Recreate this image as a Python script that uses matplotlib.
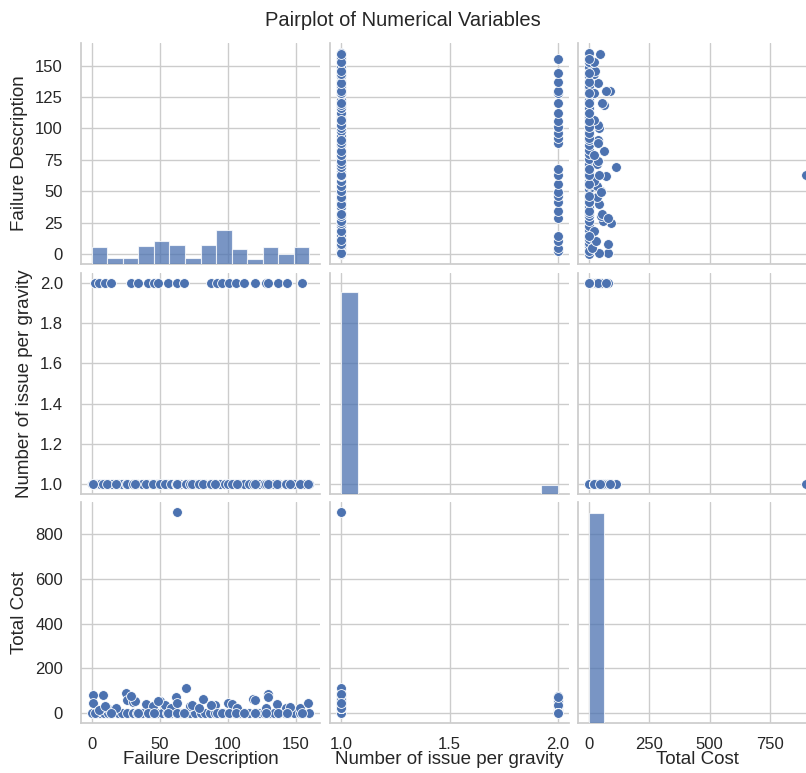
import numpy as np
import matplotlib.pyplot as plt
import seaborn as sns

# variables shown in the grid
var_names = ['Failure Description', 'Number of issue per gravity', 'Total Cost']

# distinct points, gravity 1 with cost 0 (label-encoded failure codes)
g1_zero_fail = [0, 3, 6, 9, 12, 15, 19, 22, 26, 30, 33, 37, 41, 44, 48, 52, 55, 58,
                62, 65, 69, 72, 76, 80, 83, 87, 91, 94, 98, 101, 105, 109, 112, 116,
                120, 123, 127, 131, 134, 138, 142, 145, 149, 153, 156, 160]

# gravity 1 with a cost
g1_cost_fail = [1, 1, 8, 11, 18, 25, 26, 30, 32, 40, 45, 50, 54, 58, 62, 63, 63, 69,
                72, 74, 79, 82, 88, 91, 100, 103, 107, 119, 120, 128, 130, 136, 143,
                146, 153, 159]
g1_cost = [80, 43, 80, 20, 20, 90, 58, 50, 54, 40, 32, 52, 35, 20, 70, 43, 900, 114,
           32, 36, 20, 64, 36, 36, 43, 38, 20, 64, 56, 20, 87, 38, 20, 26, 20, 45]

# gravity 2
g2_fail = [2, 5, 10, 14, 29, 34, 41, 46, 49, 56, 63, 68, 88, 92, 96, 101, 106, 112,
           120, 128, 130, 137, 144, 155]
g2_cost = [0, 12, 30, 0, 78, 0, 0, 0, 52, 0, 0, 0, 36, 0, 0, 0, 0, 0,
           0, 0, 72, 0, 0, 0]

# histogram counts on the diagonal
fd_counts = [44, 17, 17, 47, 60, 50, 17, 50, 89, 41, 13, 44, 27, 44]
grav_counts = [536, 0, 0, 0, 0, 0, 0, 0, 0, 0, 0, 0, 24]
cost_counts = [559, 0, 0, 0, 0, 0, 0, 0, 0, 0, 0, 0, 0, 1]

fail_all = np.array(g1_zero_fail + g1_cost_fail + g2_fail, dtype=float)
grav_all = np.array([1] * len(g1_zero_fail) + [1] * len(g1_cost_fail) + [2] * len(g2_fail), dtype=float)
cost_all = np.array([0] * len(g1_zero_fail) + g1_cost + g2_cost, dtype=float)
columns = [fail_all, grav_all, cost_all]

edges = [np.linspace(0, 160, len(fd_counts) + 1),
         np.linspace(1, 2, len(grav_counts) + 1),
         np.linspace(0, 900, len(cost_counts) + 1)]
counts = [fd_counts, grav_counts, cost_counts]

lims = [(-8, 168), (0.95, 2.05), (-45, 945)]
ticks = [[0, 50, 100, 150], [1.0, 1.5, 2.0], [0, 250, 500, 750]]
yticks = [[0, 25, 50, 75, 100, 125, 150], [1.0, 1.2, 1.4, 1.6, 1.8, 2.0],
          [0, 200, 400, 600, 800]]

sns.set_theme(style='whitegrid')
plt.rcParams['font.family'] = ['Liberation Sans', 'DejaVu Sans']

W, H = 806, 773
fig = plt.figure(figsize=(W / 100, H / 100), dpi=100)
blue = '#4C72B0'

col_left = [81, 330, 578]
row_top = [43, 273, 502]
aw, ah = 239, 221

axes = [[None] * 3 for _ in range(3)]
diag_axes = []
for i in range(3):
    for j in range(3):
        ax = fig.add_axes([col_left[j] / W, 1 - (row_top[i] + ah) / H, aw / W, ah / H])
        axes[i][j] = ax
        ax.set_xlim(*lims[j])
        ax.set_ylim(*lims[i])
        ax.set_xticks(ticks[j])
        ax.set_yticks(yticks[i])
        for s in ['top', 'right']:
            ax.spines[s].set_visible(False)
        for s in ['left', 'bottom']:
            ax.spines[s].set_color('#cccccc')
        ax.tick_params(length=0, labelsize=12, colors='#262626')
        ax.tick_params(axis='y', pad=13)
        ax.tick_params(axis='x', pad=10)
        if j > 0:
            ax.tick_params(labelleft=False)
        else:
            ax.set_ylabel(var_names[i], fontsize=13.5, color='#262626', labelpad=5)
        if i < 2:
            ax.tick_params(labelbottom=False)
        else:
            ax.set_xlabel(var_names[j], fontsize=13.5, color='#262626', labelpad=-1)
        ax.set_axisbelow(True)

        if i == j:
            tw = ax.twinx()
            tw.set_axis_off()
            e = edges[i]
            tw.bar(e[:-1], counts[i], width=np.diff(e), align='edge', color=blue,
                   alpha=0.75, edgecolor='white', linewidth=0.8)
            diag_axes.append(tw)
        else:
            ax.scatter(columns[j], columns[i], s=50, color=blue, edgecolor='white',
                       linewidth=0.6, zorder=3)

top = max(max(c) for c in counts) * 1.05
for tw in diag_axes:
    tw.set_ylim(0, top)

fig.text(0.5, 1 - 20 / H, 'Pairplot of Numerical Variables', ha='center', va='center',
         fontsize=14.5, color='#262626')

fig.savefig('out.png', dpi=100)
